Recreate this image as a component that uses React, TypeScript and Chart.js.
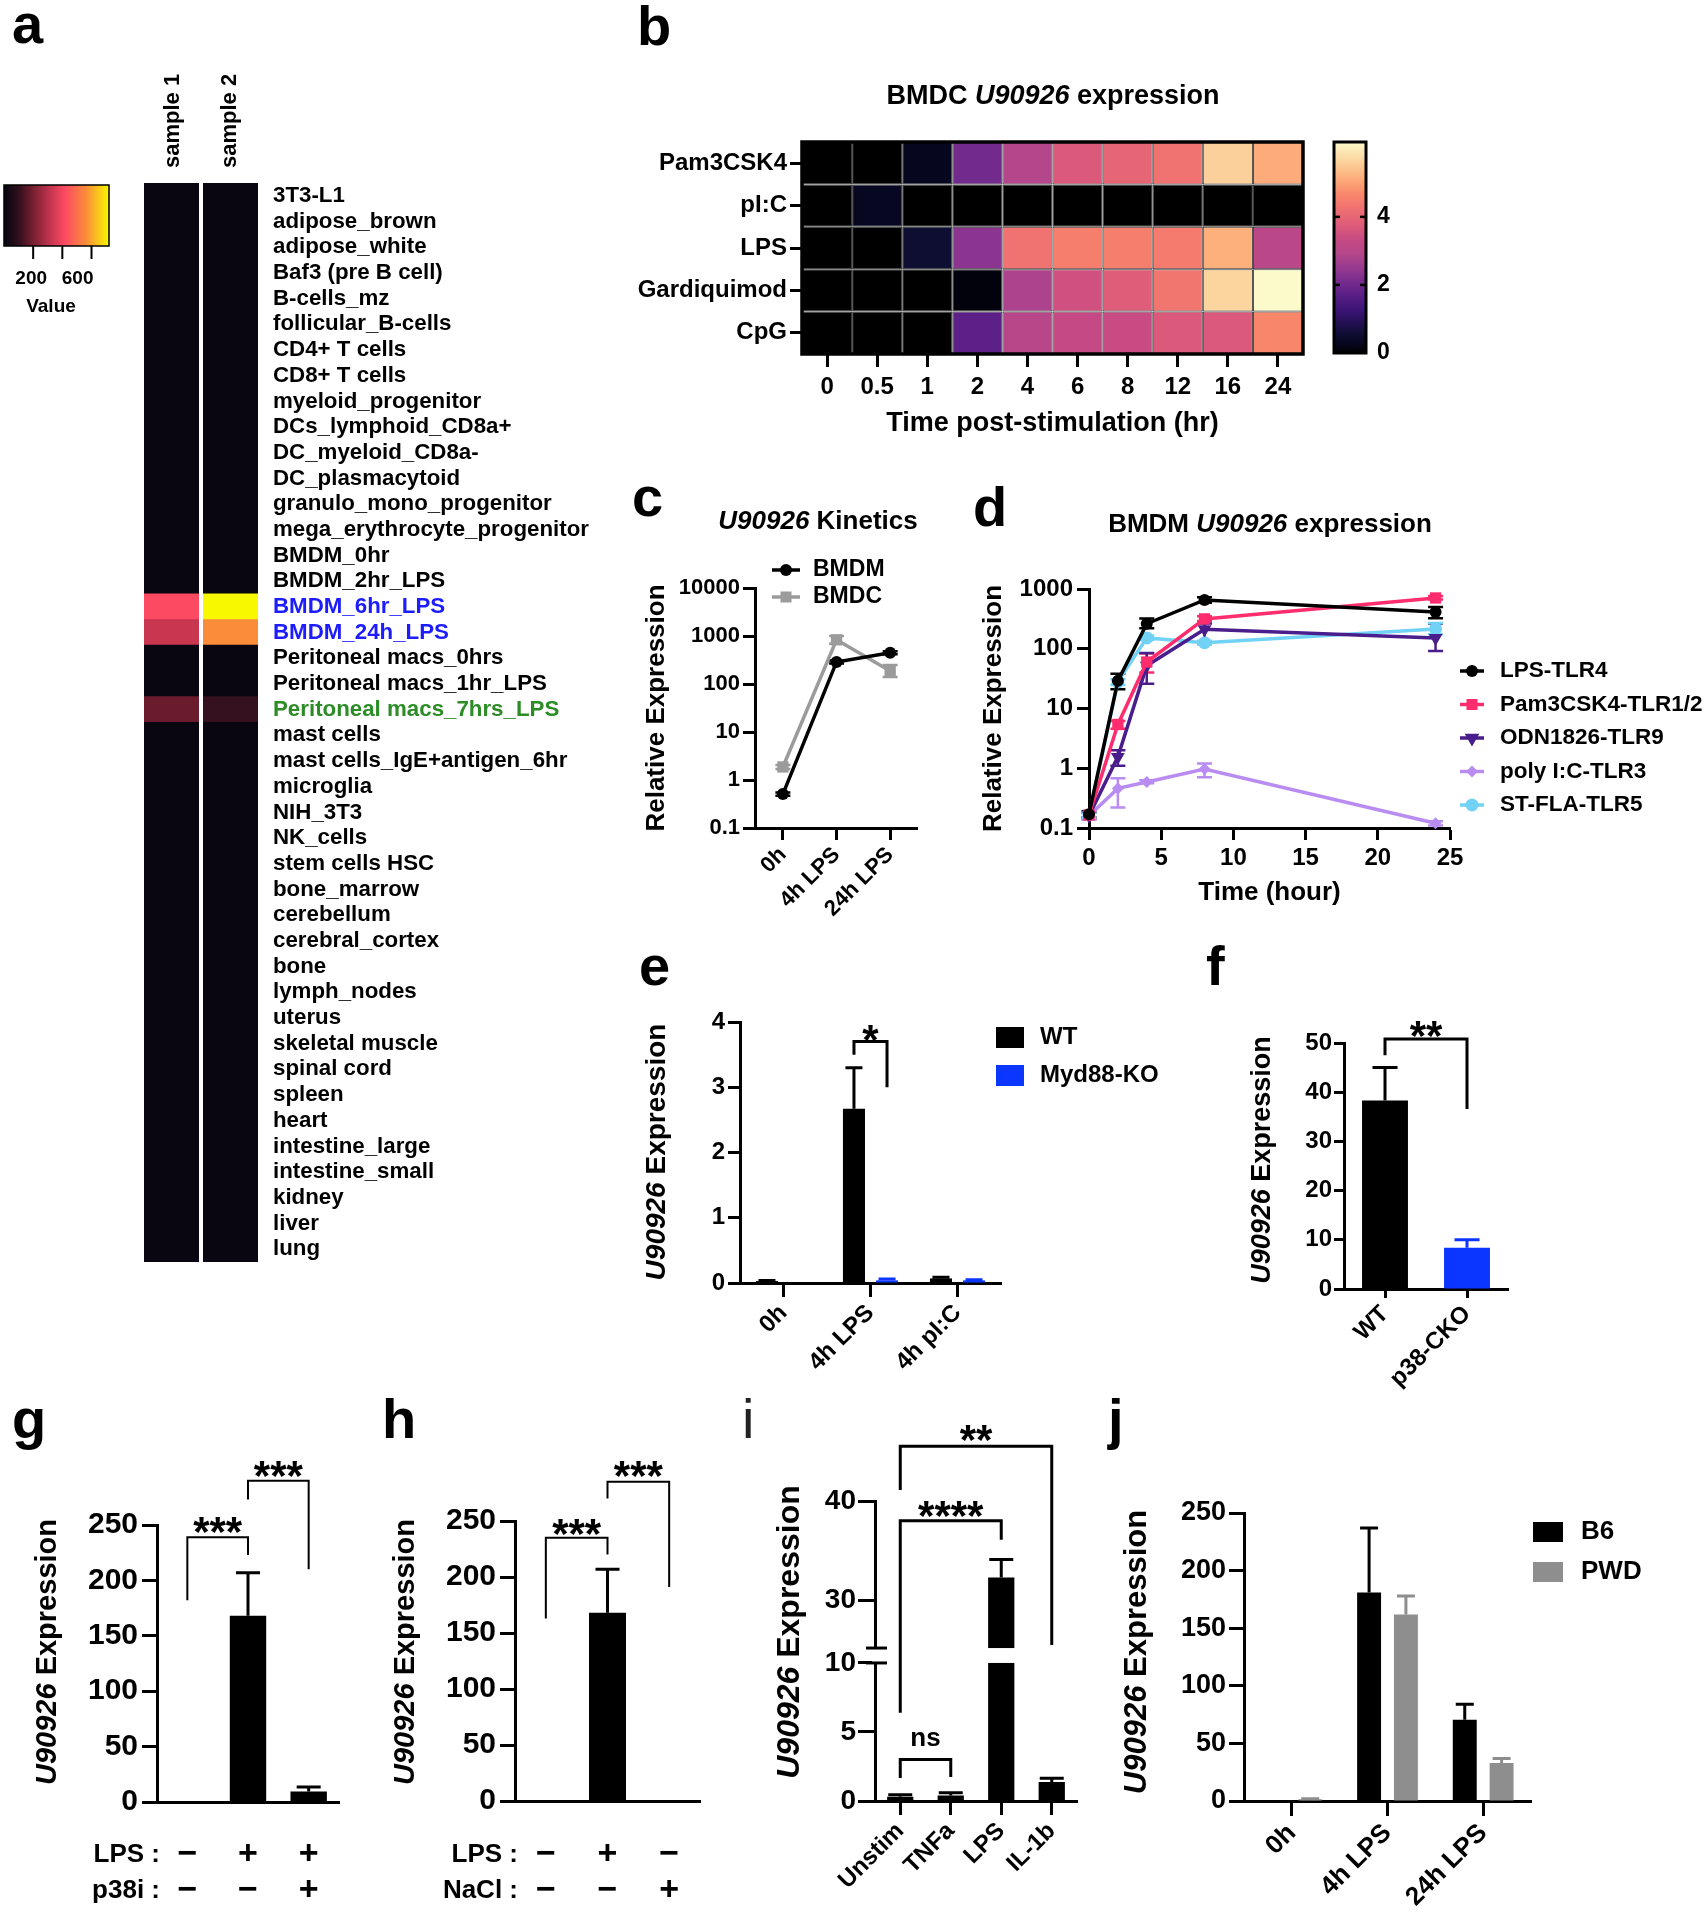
import React, { useEffect, useRef } from 'react';
import { Chart, registerables } from 'chart.js';

Chart.register(...registerables);

const FAMILY = "'Liberation Sans', Arial, Helvetica, sans-serif";
Chart.defaults.font.family = FAMILY;
Chart.defaults.color = '#000';

/* ================= DATA ================= */
// panel a : tissue heatmap (BioGPS-like)
const tissues = [
  '3T3-L1', 'adipose_brown', 'adipose_white', 'Baf3 (pre B cell)', 'B-cells_mz', 'follicular_B-cells',
  'CD4+ T cells', 'CD8+ T cells', 'myeloid_progenitor', 'DCs_lymphoid_CD8a+', 'DC_myeloid_CD8a-',
  'DC_plasmacytoid', 'granulo_mono_progenitor', 'mega_erythrocyte_progenitor', 'BMDM_0hr', 'BMDM_2hr_LPS',
  'BMDM_6hr_LPS', 'BMDM_24h_LPS', 'Peritoneal macs_0hrs', 'Peritoneal macs_1hr_LPS', 'Peritoneal macs_7hrs_LPS',
  'mast cells', 'mast cells_IgE+antigen_6hr', 'microglia', 'NIH_3T3', 'NK_cells', 'stem cells HSC',
  'bone_marrow', 'cerebellum', 'cerebral_cortex', 'bone', 'lymph_nodes', 'uterus', 'skeletal muscle',
  'spinal cord', 'spleen', 'heart', 'intestine_large', 'intestine_small', 'kidney', 'liver', 'lung',
];
const samples = ['sample 1', 'sample 2'];
const sample1Values = [8, 8, 8, 8, 8, 8, 8, 8, 8, 8, 8, 8, 8, 8, 8, 8, 418, 324, 8, 8, 180, 8, 8, 8, 8, 8, 8, 8, 8, 8, 8, 8, 8, 8, 8, 8, 8, 8, 8, 8, 8, 8];
const sample2Values = [8, 8, 8, 8, 8, 8, 8, 8, 8, 8, 8, 8, 8, 8, 8, 8, 720, 562, 8, 8, 108, 8, 8, 8, 8, 8, 8, 8, 8, 8, 8, 8, 8, 8, 8, 8, 8, 8, 8, 8, 8, 8];
const blueTissues = ['BMDM_6hr_LPS', 'BMDM_24h_LPS'];
const greenTissues = ['Peritoneal macs_7hrs_LPS'];
const keyTickValues = [200, 400, 600];
const keyMax = 720;

// panel b : BMDC heatmap
const stimuli = ['Pam3CSK4', 'pI:C', 'LPS', 'Gardiquimod', 'CpG'];
const timePoints = ['0', '0.5', '1', '2', '4', '6', '8', '12', '16', '24'];
const pam3csk4Expr = [0, 0, 0.25, 2.05, 2.9, 3.7, 4.0, 4.3, 5.6, 5.1];
const picExpr = [0, 0.3, 0, 0, 0, 0, 0, 0, 0, 0];
const lpsExpr = [0, 0, 0.55, 2.35, 4.3, 4.5, 4.5, 4.45, 5.15, 3.05];
const gardiquimodExpr = [0, 0, 0, 0.1, 2.8, 3.5, 3.8, 4.35, 5.65, 6.2];
const cpgExpr = [0, 0, 0, 1.75, 3.0, 3.3, 3.35, 3.7, 3.7, 4.65];
const bmdcScaleMax = 6.2;
const bmdcKeyTicks = [0, 2, 4];

// panel c : kinetics
const kinCats = ['0h', '4h LPS', '24h LPS'];
const kinBMDM = [0.51, 288, 446];
const kinBMDMLo = [0.47, 268, 415];
const kinBMDMHi = [0.55, 310, 480];
const kinBMDC = [1.87, 832, 186];
const kinBMDCLo = [1.7, 690, 140];
const kinBMDCHi = [2.05, 1000, 250];
const cTicks = [0.1, 1, 10, 100, 1000, 10000];

// panel d : BMDM time course
const tHours = [0, 2, 4, 8, 24];
const dLegend = ['LPS-TLR4', 'Pam3CSK4-TLR1/2', 'ODN1826-TLR9', 'poly I:C-TLR3', 'ST-FLA-TLR5'];
const lpsTLR4 = [0.17, 29, 262, 655, 414];
const lpsTLR4Lo = [0.15, 21, 220, 590, 325];
const lpsTLR4Hi = [0.19, 38, 320, 730, 500];
const pam3TLR12 = [0.165, 5.4, 60, 316, 708];
const pam3TLR12Lo = [0.15, 4.6, 40, 290, 670];
const pam3TLR12Hi = [0.18, 6.2, 83, 350, 760];
const odnTLR9 = [0.16, 1.55, 52, 212, 152];
const odnTLR9Lo = [0.14, 1.1, 26, 120, 92];
const odnTLR9Hi = [0.18, 2.0, 85, 264, 265];
const polyICTLR3 = [0.16, 0.46, 0.59, 0.97, 0.12];
const polyICTLR3Lo = [0.14, 0.22, 0.56, 0.71, 0.11];
const polyICTLR3Hi = [0.18, 0.68, 0.63, 1.2, 0.13];
const stflaTLR5 = [0.165, 28, 152, 126, 215];
const stflaTLR5Lo = [0.15, 25, 140, 118, 175];
const stflaTLR5Hi = [0.18, 31, 166, 136, 270];
const dYTicks = [0.1, 1, 10, 100, 1000];
const dXTicks = [0, 5, 10, 15, 20, 25];

// panel e : Myd88
const eCats = ['0h', '4h LPS', '4h pI:C'];
const eWT = [0.03, 2.67, 0.07];
const eWTErr = [0.04, 3.3, 0.09];
const eKO = [0, 0.04, 0.04];
const eKOErr = [null, 0.06, 0.05];
const eTicks = [0, 1, 2, 3, 4];

// panel f : p38 CKO
const fCats = ['WT', 'p38-CKO'];
const fValues = [38.3, 8.4];
const fErr = [45, 10];
const fTicks = [0, 10, 20, 30, 40, 50];

// panel g : p38 inhibitor
const gLPS = ['\u2212', '+', '+'];
const gP38i = ['\u2212', '\u2212', '+'];
const gValues = [0, 168, 9.5];
const gErr = [null, 207, 13.5];
const gTicks = [0, 50, 100, 150, 200, 250];

// panel h : NaCl
const hLPS = ['\u2212', '+', '\u2212'];
const hNaCl = ['\u2212', '\u2212', '+'];
const hValues = [0, 168, 0];
const hErr = [null, 207, null];
const hTicks = [0, 50, 100, 150, 200, 250];

// panel i : cytokines (broken axis)
const iCats = ['Unstim', 'TNFa', 'LPS', 'IL-1b'];
const iValues = [0.3, 0.4, 32.3, 1.38];
const iErr = [0.45, 0.6, 34.1, 1.65];
const iLowTicks = [0, 5, 10];
const iHighTicks = [30, 40];

// panel j : B6 vs PWD
const jCats = ['0h', '4h LPS', '24h LPS'];
const jB6 = [0, 181, 70.5];
const jB6Err = [null, 237, 84];
const jPWD = [1.5, 162, 33];
const jPWDErr = [2, 178, 37];
const jTicks = [0, 50, 100, 150, 200, 250];

/* ================= STYLE / HELPERS ================= */
const AXIS_W = 3;
const KO_BLUE = '#0a36ff';
const PWD_GREY = '#8e8e8e';
const BMDC_GREY = '#9b9b9b';

type Box = { x: number; y: number; w: number; h: number };
type Area = { l: number; t: number; r: number; b: number };
type Seg = { t: string; it?: boolean };

function hexToRgb(h: string) {
  const n = parseInt(h.slice(1), 16);
  return [(n >> 16) & 255, (n >> 8) & 255, n & 255];
}
function makeColormap(stops: [number, string][]) {
  const s = stops.map(([t, c]) => [t, hexToRgb(c)] as [number, number[]]);
  return (t: number) => {
    const v = Math.max(0, Math.min(1, t));
    for (let i = 1; i < s.length; i++) {
      if (v <= s[i][0]) {
        const [t0, c0] = s[i - 1];
        const [t1, c1] = s[i];
        const f = (v - t0) / (t1 - t0 || 1);
        const c = c0.map((a, k) => Math.round(a + (c1[k] - a) * f));
        return `rgb(${c[0]},${c[1]},${c[2]})`;
      }
    }
    const c = s[s.length - 1][1];
    return `rgb(${c[0]},${c[1]},${c[2]})`;
  };
}
const heatA = makeColormap([
  [0, '#050410'], [0.15, '#35101e'], [0.25, '#6a1c2c'], [0.45, '#c83650'],
  [0.58, '#fc4a63'], [0.78, '#fb8c3a'], [1, '#f8f800'],
]);
const magmaLike = makeColormap([
  [0, '#000000'], [0.04, '#06061e'], [0.09, '#0e0d33'], [0.2, '#3a1475'], [0.28, '#5c2088'],
  [0.33, '#722a8c'], [0.38, '#8b3590'], [0.47, '#b5478b'], [0.53, '#c44884'], [0.6, '#dc5a7a'],
  [0.7, '#f27570'], [0.75, '#f8866a'], [0.83, '#fdaf7c'], [0.9, '#fbcf98'], [1, '#fcf9cb'],
]);

const fontStr = (size: number, weight: string, italic: boolean) =>
  `${italic ? 'italic ' : ''}${weight} ${size}px ${FAMILY}`;

function drawText(ctx: CanvasRenderingContext2D, text: string | Seg[], x: number, y: number, size: number, o: any = {}) {
  const segs: Seg[] = typeof text === 'string' ? [{ t: text }] : text;
  const weight = o.weight ?? 'bold';
  ctx.save();
  ctx.translate(x, y);
  if (o.rot) ctx.rotate(o.rot);
  ctx.textBaseline = o.baseline ?? 'middle';
  ctx.textAlign = 'left';
  ctx.fillStyle = o.color ?? '#000';
  const widths = segs.map((s) => {
    ctx.font = fontStr(size, weight, !!s.it);
    return ctx.measureText(s.t).width;
  });
  const total = widths.reduce((a, b) => a + b, 0);
  let cx = o.align === 'center' ? -total / 2 : o.align === 'right' ? -total : 0;
  segs.forEach((s, i) => {
    ctx.font = fontStr(size, weight, !!s.it);
    ctx.fillText(s.t, cx, 0);
    cx += widths[i];
  });
  ctx.restore();
}
function drawStars(ctx: CanvasRenderingContext2D, s: string, x: number, yCenter: number, size: number) {
  drawText(ctx, s, x, yCenter + 0.66 * size, size, { align: 'center', baseline: 'alphabetic' });
}
function drawBracket(ctx: CanvasRenderingContext2D, x1: number, x2: number, yTop: number, yL: number, yR: number, lw: number) {
  ctx.save();
  ctx.strokeStyle = '#000';
  ctx.lineWidth = lw;
  ctx.lineJoin = 'miter';
  ctx.beginPath();
  ctx.moveTo(x1, yL);
  ctx.lineTo(x1, yTop);
  ctx.lineTo(x2, yTop);
  ctx.lineTo(x2, yR);
  ctx.stroke();
  ctx.restore();
}
function drawMarker(ctx: CanvasRenderingContext2D, style: string, x: number, y: number, r: number, color: string) {
  ctx.save();
  ctx.fillStyle = color;
  ctx.beginPath();
  if (style === 'circle') ctx.arc(x, y, r, 0, Math.PI * 2);
  else if (style === 'rect') ctx.rect(x - r, y - r, 2 * r, 2 * r);
  else if (style === 'triangleDown') {
    ctx.moveTo(x - r * 1.05, y - r * 0.6);
    ctx.lineTo(x + r * 1.05, y - r * 0.6);
    ctx.lineTo(x, y + r * 1.2);
    ctx.closePath();
  } else if (style === 'diamond') {
    ctx.moveTo(x, y - r);
    ctx.lineTo(x + r, y);
    ctx.lineTo(x, y + r);
    ctx.lineTo(x - r, y);
    ctx.closePath();
  }
  ctx.fill();
  ctx.restore();
}
function hLine(ctx: CanvasRenderingContext2D, x1: number, y1: number, x2: number, y2: number, lw: number, color = '#000') {
  ctx.save();
  ctx.strokeStyle = color;
  ctx.lineWidth = lw;
  ctx.beginPath();
  ctx.moveTo(x1, y1);
  ctx.lineTo(x2, y2);
  ctx.stroke();
  ctx.restore();
}

const yExprTitle: Seg[] = [{ t: 'U90926', it: true }, { t: ' Expression' }];
const F = (size: number, weight: any = 'bold') => ({ family: FAMILY, size, weight, lineHeight: 1.2 });

function fitWidth(w: number) {
  return (s: any) => { s.width = w; s.paddingTop = 0; s.paddingBottom = 0; s.paddingLeft = 0; s.paddingRight = 0; };
}
function fitHeight(h: number) {
  return (s: any) => { s.height = h; s.paddingTop = 0; s.paddingBottom = 0; s.paddingLeft = 0; s.paddingRight = 0; };
}
function setTicks(values: number[]) {
  return (s: any) => { s.ticks = values.map((v) => ({ value: v })); };
}

function valueAxis(o: any) {
  return {
    type: o.type ?? 'linear',
    position: 'left',
    min: o.min,
    max: o.max,
    z: 1,
    ...(o.stack ? { stack: o.stack, stackWeight: o.stackWeight } : {}),
    border: { display: true, color: '#000', width: AXIS_W },
    grid: { display: true, drawOnChartArea: false, drawTicks: true, tickLength: o.tickLen, tickWidth: AXIS_W, tickColor: '#000', color: '#000' },
    ticks: { color: '#000', font: F(o.size), padding: o.pad, autoSkip: false, callback: (v: any) => String(v) },
    afterBuildTicks: setTicks(o.ticks),
    afterFit: fitWidth(o.width),
  };
}
function categoryAxis(o: any) {
  return {
    type: 'category',
    position: 'bottom',
    offset: true,
    z: 1,
    border: { display: true, color: '#000', width: AXIS_W },
    grid: { display: true, offset: false, drawOnChartArea: false, drawTicks: o.tickLen > 0, tickLength: o.tickLen || 1, tickWidth: AXIS_W, tickColor: '#000', color: '#000' },
    ticks: { display: o.show, color: '#000', font: F(o.size), padding: o.pad, minRotation: o.rot, maxRotation: o.rot, autoSkip: false },
    afterFit: fitHeight(o.height),
  };
}
function baseOptions(box: Box, area: Area, scales: any, extra: any = {}) {
  return {
    responsive: false,
    animation: false,
    events: [],
    devicePixelRatio: 1,
    layout: { padding: { top: area.t - box.y, right: box.x + box.w - area.r, left: 0, bottom: 0 } },
    plugins: { legend: { display: false }, tooltip: { enabled: false }, title: { display: false } },
    scales,
    ...extra,
  };
}

function pagePlugin(box: Box, draw: (ctx: CanvasRenderingContext2D, chart: any, P: any) => void) {
  return {
    id: 'pageDraw',
    afterDraw(chart: any) {
      const ctx = chart.ctx;
      const ca = chart.chartArea;
      const P = {
        x: (id: string, v: number) => chart.scales[id].getPixelForValue(v) + box.x,
        y: (id: string, v: number) => chart.scales[id].getPixelForValue(v) + box.y,
        el: (di: number, k: number) => {
          const e = chart.getDatasetMeta(di).data[k];
          return { x: e.x + box.x, y: e.y + box.y };
        },
        area: { l: ca.left + box.x, r: ca.right + box.x, t: ca.top + box.y, b: ca.bottom + box.y },
      };
      ctx.save();
      ctx.translate(-box.x, -box.y);
      draw(ctx, chart, P);
      ctx.restore();
    },
  };
}

const errorBarPlugin = {
  id: 'errorBars',
  beforeDatasetsDraw(chart: any) {
    const ctx = chart.ctx;
    chart.data.datasets.forEach((ds: any, di: number) => {
      if (!ds.errHi) return;
      const meta = chart.getDatasetMeta(di);
      const ys = chart.scales[meta.yAxisID];
      meta.data.forEach((el: any, k: number) => {
        const hi = ds.errHi[k];
        if (hi === null || hi === undefined) return;
        const col = Array.isArray(ds.errColor) ? ds.errColor[k] : ds.errColor ?? '#000';
        const half = (ds.capW ?? 16) / 2;
        ctx.save();
        ctx.strokeStyle = col;
        ctx.lineWidth = ds.errWidth ?? 3;
        ctx.beginPath();
        const yh = ys.getPixelForValue(hi);
        ctx.moveTo(el.x, el.y);
        ctx.lineTo(el.x, yh);
        ctx.moveTo(el.x - half, yh);
        ctx.lineTo(el.x + half, yh);
        if (ds.errLo && ds.errLo[k] != null) {
          const yl = ys.getPixelForValue(ds.errLo[k]);
          ctx.moveTo(el.x, el.y);
          ctx.lineTo(el.x, yl);
          ctx.moveTo(el.x - half, yl);
          ctx.lineTo(el.x + half, yl);
        }
        ctx.stroke();
        ctx.restore();
      });
    });
  },
};

function drawTable(ctx: CanvasRenderingContext2D, P: any, rows: [string, string[]][], labelRight: number, ys: number[], labelSize: number) {
  rows.forEach(([label, signs], r) => {
    drawText(ctx, label, labelRight, ys[r], labelSize, { align: 'right' });
    signs.forEach((s, i) => drawText(ctx, s, P.x('x', i), ys[r], 34, { align: 'center' }));
  });
}

/* ================= LAYOUT BOXES ================= */
const aBox: Box = { x: 0, y: 0, w: 620, h: 1290 };
const aArea: Area = { l: 144, t: 183, r: 258, b: 1262 };
const bBox: Box = { x: 620, y: 0, w: 840, h: 450 };
const bArea: Area = { l: 802, t: 142, r: 1303, b: 354 };
const cBox: Box = { x: 620, y: 470, w: 340, h: 480 };
const cArea: Area = { l: 755, t: 588, r: 917, b: 828 };
const dBox: Box = { x: 960, y: 470, w: 744, h: 450 };
const dArea: Area = { l: 1089, t: 589, r: 1450, b: 828 };
const eBox: Box = { x: 620, y: 930, w: 600, h: 440 };
const eArea: Area = { l: 740, t: 1022, r: 1001, b: 1283 };
const fBox: Box = { x: 1190, y: 930, w: 340, h: 470 };
const fArea: Area = { l: 1344, t: 1043, r: 1508, b: 1289 };
const gBox: Box = { x: 0, y: 1380, w: 370, h: 540 };
const gArea: Area = { l: 157, t: 1525, r: 339, b: 1802 };
const hBox: Box = { x: 370, y: 1380, w: 370, h: 540 };
const hArea: Area = { l: 515, t: 1521, r: 700, b: 1801 };
const iBox: Box = { x: 740, y: 1380, w: 370, h: 540 };
const iArea: Area = { l: 875, t: 1501, r: 1077, b: 1801 };
const jBox: Box = { x: 1100, y: 1380, w: 604, h: 540 };
const jArea: Area = { l: 1244, t: 1513, r: 1531, b: 1801 };

/* ================= PANELS ================= */
function tissueColor(name: string) {
  if (blueTissues.includes(name)) return '#1c1cff';
  if (greenTissues.includes(name)) return '#2c8c26';
  return '#000';
}

function panelA(): any {
  const heat = (vals: number[], col: number) => ({
    label: samples[col],
    data: tissues.map(() => [col, col + 1]),
    backgroundColor: vals.map((v) => heatA(v / keyMax)),
    borderWidth: 0,
    inflateAmount: 0.6,
    barPercentage: 1,
    categoryPercentage: 1,
    grouped: false,
  });
  return {
    type: 'bar',
    data: { labels: tissues, datasets: [heat(sample1Values, 0), heat(sample2Values, 1)] },
    options: {
      responsive: false,
      animation: false,
      events: [],
      devicePixelRatio: 1,
      indexAxis: 'y',
      layout: { padding: { left: aArea.l - aBox.x, top: aArea.t - aBox.y, right: 0, bottom: aBox.y + aBox.h - aArea.b } },
      plugins: { legend: { display: false }, tooltip: { enabled: false } },
      scales: {
        x: { type: 'linear', min: 0, max: samples.length, display: false },
        y: {
          type: 'category', position: 'right', offset: true,
          grid: { display: false, drawTicks: false }, border: { display: false },
          ticks: { autoSkip: false, padding: 15, font: F(22.3), color: (c: any) => tissueColor(tissues[c.index]) },
          afterFit: fitWidth(aBox.x + aBox.w - aArea.r),
        },
      },
    },
    plugins: [pagePlugin(aBox, (ctx, chart, P) => {
      // white separator between the two sample columns
      ctx.fillStyle = '#ffffff';
      const xm = P.x('x', 1);
      ctx.fillRect(xm - 2, P.area.t - 1, 4, P.area.b - P.area.t + 2);
      drawText(ctx, 'a', 12, 43, 56, { baseline: 'alphabetic' });
      samples.forEach((s, i) => drawText(ctx, s, P.x('x', i + 0.5), 168, 22, { rot: -Math.PI / 2, align: 'left' }));
      // colour key
      const kx0 = 4, kx1 = 109, ky0 = 185, ky1 = 246;
      const g = ctx.createLinearGradient(kx0, 0, kx1, 0);
      for (let i = 0; i <= 40; i++) g.addColorStop(i / 40, heatA(i / 40));
      ctx.fillStyle = g;
      ctx.fillRect(kx0, ky0, kx1 - kx0, ky1 - ky0);
      ctx.strokeStyle = '#000';
      ctx.lineWidth = 1.5;
      ctx.strokeRect(kx0, ky0, kx1 - kx0, ky1 - ky0);
      const kxp = (v: number) => kx0 + (v / keyMax) * (kx1 - kx0);
      keyTickValues.forEach((v) => hLine(ctx, kxp(v), ky1, kxp(v), ky1 + 13, 2));
      drawText(ctx, String(keyTickValues[0]), kxp(keyTickValues[0]) - 2, 279, 19, { align: 'center' });
      drawText(ctx, String(keyTickValues[2]), kxp(keyTickValues[2]) + 2, 279, 19, { align: 'right' });
      drawText(ctx, 'Value', 51, 307, 19, { align: 'center' });
    })],
  };
}

function panelB(): any {
  const bmdcRows = [pam3csk4Expr, picExpr, lpsExpr, gardiquimodExpr, cpgExpr];
  const datasets = timePoints.map((t, j) => ({
    label: t,
    data: stimuli.map(() => [j, j + 1]),
    backgroundColor: bmdcRows.map((row) => magmaLike(row[j] / bmdcScaleMax)),
    borderColor: '#303030',
    borderWidth: 1,
    borderSkipped: false,
    inflateAmount: 0,
    barPercentage: 1,
    categoryPercentage: 1,
    grouped: false,
  }));
  return {
    type: 'bar',
    data: { labels: stimuli, datasets },
    options: baseOptions(bBox, bArea, {
      x: {
        type: 'linear', position: 'bottom', min: 0, max: timePoints.length, z: 1,
        border: { display: false },
        grid: { display: true, drawOnChartArea: false, drawTicks: true, tickLength: 13, tickWidth: AXIS_W, tickColor: '#000' },
        ticks: { font: F(24), color: '#000', padding: 6, maxRotation: 0, autoSkip: false, callback: (_v: any, i: number) => timePoints[i] },
        afterBuildTicks: setTicks(timePoints.map((_, j) => j + 0.5)),
        afterFit: fitHeight(bBox.y + bBox.h - bArea.b),
      },
      y: {
        type: 'category', position: 'left', offset: true, z: 1,
        border: { display: false },
        grid: { display: true, offset: false, drawOnChartArea: false, drawTicks: true, tickLength: 12, tickWidth: AXIS_W, tickColor: '#000' },
        ticks: { font: F(24), color: '#000', padding: 3, autoSkip: false },
        afterFit: fitWidth(bArea.l - bBox.x),
      },
    }, { indexAxis: 'y' }),
    plugins: [pagePlugin(bBox, (ctx, chart, P) => {
      const a = P.area;
      ctx.strokeStyle = '#000';
      ctx.lineWidth = 3.5;
      ctx.strokeRect(a.l, a.t, a.r - a.l, a.b - a.t);
      drawText(ctx, 'b', 637, 45, 56, { baseline: 'alphabetic' });
      drawText(ctx, [{ t: 'BMDC ' }, { t: 'U90926', it: true }, { t: ' expression' }], 1053, 97, 27, { align: 'center' });
      drawText(ctx, 'Time post-stimulation (hr)', (a.l + a.r) / 2, 424, 27, { align: 'center' });
      // colour key
      const kx = 1334, kw = 32, kt = a.t, kb = a.b - 1;
      const g = ctx.createLinearGradient(0, kb, 0, kt);
      for (let i = 0; i <= 40; i++) g.addColorStop(i / 40, magmaLike(i / 40));
      ctx.fillStyle = g;
      ctx.fillRect(kx, kt, kw, kb - kt);
      ctx.lineWidth = 3;
      ctx.strokeRect(kx, kt, kw, kb - kt);
      bmdcKeyTicks.forEach((v) => {
        const y = kb - (v / bmdcScaleMax) * (kb - kt);
        if (v > 0) {
          hLine(ctx, kx, y, kx + 6, y, 2.5);
          hLine(ctx, kx + kw - 6, y, kx + kw, y, 2.5);
        }
        drawText(ctx, String(v), kx + kw + 11, y, 23);
      });
    })],
  };
}

function lineDataset(label: string, xs: number[], vals: number[], lo: number[], hi: number[], color: string, style: string, radius: number, rot = 0) {
  return {
    label,
    data: vals.map((v, k) => ({ x: xs[k], y: v })),
    borderColor: color,
    backgroundColor: color,
    pointBackgroundColor: color,
    pointBorderColor: color,
    pointBorderWidth: 0,
    pointStyle: style,
    pointRadius: radius,
    pointRotation: rot,
    borderWidth: 3.5,
    tension: 0,
    clip: false,
    errLo: lo,
    errHi: hi,
    capW: 15,
    errColor: color,
    errWidth: 2.5,
  };
}

function panelC(): any {
  const xs = kinCats.map((_, i) => i);
  return {
    type: 'line',
    data: {
      datasets: [
        lineDataset('BMDM', xs, kinBMDM, kinBMDMLo, kinBMDMHi, '#000', 'circle', 6),
        lineDataset('BMDC', xs, kinBMDC, kinBMDCLo, kinBMDCHi, BMDC_GREY, 'rect', 8),
      ],
    },
    options: baseOptions(cBox, cArea, {
      x: {
        type: 'linear', position: 'bottom', min: -0.52, max: kinCats.length - 0.5, z: 1,
        border: { display: true, color: '#000', width: AXIS_W },
        grid: { display: true, drawOnChartArea: false, drawTicks: true, tickLength: 12, tickWidth: AXIS_W, tickColor: '#000' },
        ticks: { font: F(22), color: '#000', padding: 2, minRotation: 45, maxRotation: 45, autoSkip: false, callback: (_v: any, i: number) => kinCats[i] },
        afterBuildTicks: setTicks(xs),
        afterFit: fitHeight(cBox.y + cBox.h - cArea.b),
      },
      y: valueAxis({ type: 'logarithmic', width: cArea.l - cBox.x, min: 0.1, max: 10000, ticks: cTicks, size: 22, tickLen: 12, pad: 3 }),
    }),
    plugins: [errorBarPlugin, pagePlugin(cBox, (ctx, chart, P) => {
      drawText(ctx, 'c', 632, 516, 56, { baseline: 'alphabetic' });
      drawText(ctx, [{ t: 'U90926', it: true }, { t: ' Kinetics' }], 818, 522, 26, { align: 'center' });
      drawText(ctx, 'Relative Expression', 657, (P.area.t + P.area.b) / 2, 26, { align: 'center', rot: -Math.PI / 2 });
      const legend: [string, string, string, number][] = [['BMDM', '#000', 'circle', 6], ['BMDC', BMDC_GREY, 'rect', 5.5]];
      legend.forEach(([name, col, st, r], i) => {
        const y = 570 + i * 27;
        hLine(ctx, 772, y, 800, y, 3.5, col);
        drawMarker(ctx, st, 786, y, r, col);
        drawText(ctx, name, 813, y, 23);
      });
    })],
  };
}

function panelD(): any {
  const vals = [lpsTLR4, pam3TLR12, odnTLR9, polyICTLR3, stflaTLR5];
  const los = [lpsTLR4Lo, pam3TLR12Lo, odnTLR9Lo, polyICTLR3Lo, stflaTLR5Lo];
  const his = [lpsTLR4Hi, pam3TLR12Hi, odnTLR9Hi, polyICTLR3Hi, stflaTLR5Hi];
  const styles = [
    { color: '#000000', point: 'circle', r: 6, rot: 0, leg: 'circle', lr: 6 },
    { color: '#ff2d6d', point: 'rect', r: 8, rot: 0, leg: 'rect', lr: 5.5 },
    { color: '#4a1d8c', point: 'triangle', r: 8, rot: 180, leg: 'triangleDown', lr: 7 },
    { color: '#b98cf2', point: 'rectRot', r: 6, rot: 0, leg: 'diamond', lr: 6 },
    { color: '#72d2f5', point: 'circle', r: 6.5, rot: 0, leg: 'circle', lr: 6.5 },
  ];
  return {
    type: 'line',
    data: {
      datasets: dLegend.map((name, s) =>
        lineDataset(name, tHours, vals[s], los[s], his[s], styles[s].color, styles[s].point, styles[s].r, styles[s].rot)),
    },
    options: baseOptions(dBox, dArea, {
      x: {
        type: 'linear', position: 'bottom', min: 0, max: 25, z: 1,
        border: { display: true, color: '#000', width: AXIS_W },
        grid: { display: true, drawOnChartArea: false, drawTicks: true, tickLength: 12, tickWidth: AXIS_W, tickColor: '#000' },
        ticks: { font: F(24), color: '#000', padding: 4, maxRotation: 0, autoSkip: false, callback: (v: any) => String(v) },
        afterBuildTicks: setTicks(dXTicks),
        afterFit: fitHeight(dBox.y + dBox.h - dArea.b),
      },
      y: valueAxis({ type: 'logarithmic', width: dArea.l - dBox.x, min: 0.1, max: 1000, ticks: dYTicks, size: 24, tickLen: 12, pad: 4 }),
    }),
    plugins: [errorBarPlugin, pagePlugin(dBox, (ctx, chart, P) => {
      drawText(ctx, 'd', 973, 526, 56, { baseline: 'alphabetic' });
      drawText(ctx, [{ t: 'BMDM ' }, { t: 'U90926', it: true }, { t: ' expression' }], 1270, 525, 26, { align: 'center' });
      drawText(ctx, 'Relative Expression', 994, (P.area.t + P.area.b) / 2, 26, { align: 'center', rot: -Math.PI / 2 });
      drawText(ctx, 'Time (hour)', (P.area.l + P.area.r) / 2, 893, 26, { align: 'center' });
      dLegend.forEach((name, s) => {
        const y = 671 + s * 33.5;
        hLine(ctx, 1460, y, 1484, y, 3.5, styles[s].color);
        drawMarker(ctx, styles[s].leg, 1472, y, styles[s].lr, styles[s].color);
        drawText(ctx, name, 1500, y, 22.5);
      });
    })],
  };
}

function panelE(): any {
  return {
    type: 'bar',
    data: {
      labels: eCats,
      datasets: [
        { label: 'WT', data: eWT, backgroundColor: '#000', errHi: eWTErr, capW: 17, errColor: '#000' },
        { label: 'Myd88-KO', data: eKO, backgroundColor: KO_BLUE, errHi: eKOErr, capW: 17, errColor: KO_BLUE },
      ],
    },
    options: baseOptions(eBox, eArea, {
      x: categoryAxis({ height: eBox.y + eBox.h - eArea.b, size: 24, tickLen: 14, pad: 2, rot: 45, show: true }),
      y: valueAxis({ width: eArea.l - eBox.x, min: 0, max: 4, ticks: eTicks, size: 24, tickLen: 12, pad: 3 }),
    }, { datasets: { bar: { barPercentage: 0.667, categoryPercentage: 0.76 } } }),
    plugins: [errorBarPlugin, pagePlugin(eBox, (ctx, chart, P) => {
      drawText(ctx, 'e', 639, 985, 56, { baseline: 'alphabetic' });
      drawText(ctx, yExprTitle, 657, 1152, 28, { align: 'center', rot: -Math.PI / 2 });
      const x1 = P.el(0, 1).x, x2 = P.el(1, 1).x;
      drawBracket(ctx, x1, x2, P.y('y', 3.7), P.y('y', 3.5), P.y('y', 3.0), 3);
      drawStars(ctx, '*', (x1 + x2) / 2, P.y('y', 3.93), 42);
      const leg: [string, string][] = [['WT', '#000'], ['Myd88-KO', KO_BLUE]];
      leg.forEach(([name, col], i) => {
        const y = 1037 + i * 38;
        ctx.fillStyle = col;
        ctx.fillRect(996, y - 10, 28, 21);
        drawText(ctx, name, 1040, y, 24);
      });
    })],
  };
}

function panelF(): any {
  return {
    type: 'bar',
    data: {
      labels: fCats,
      datasets: [{ label: 'f', data: fValues, backgroundColor: ['#000', KO_BLUE], errHi: fErr, capW: 25, errColor: ['#000', KO_BLUE] }],
    },
    options: baseOptions(fBox, fArea, {
      x: categoryAxis({ height: fBox.y + fBox.h - fArea.b, size: 24, tickLen: 9, pad: 2, rot: 45, show: true }),
      y: valueAxis({ width: fArea.l - fBox.x, min: 0, max: 50, ticks: fTicks, size: 24, tickLen: 10, pad: 2 }),
    }, { datasets: { bar: { barPercentage: 0.56, categoryPercentage: 1 } } }),
    plugins: [errorBarPlugin, pagePlugin(fBox, (ctx, chart, P) => {
      drawText(ctx, 'f', 1206, 985, 56, { baseline: 'alphabetic' });
      drawText(ctx, yExprTitle, 1263, 1160, 27, { align: 'center', rot: -Math.PI / 2 });
      const x1 = P.x('x', 0), x2 = P.x('x', 1);
      drawBracket(ctx, x1, x2, P.y('y', 50.8), P.y('y', 47.5), P.y('y', 36.6), 3);
      drawStars(ctx, '**', (x1 + x2) / 2, P.y('y', 54.2), 42);
    })],
  };
}

function simpleBarPanel(box: Box, area: Area, letter: string, letterX: number, values: number[], errs: any[], ticks: number[], titleX: number, titleSize: number,
  brackets: any[], table: [string, string[]][], tableRight: number): any {
  return {
    type: 'bar',
    data: {
      labels: values.map((_, i) => table.map((r) => r[0] + r[1][i]).join(' ')),
      datasets: [{ label: letter, data: values, backgroundColor: '#000', errHi: errs, capW: 24, errColor: '#000' }],
    },
    options: baseOptions(box, area, {
      x: categoryAxis({ height: box.y + box.h - area.b, size: 24, tickLen: 0, pad: 0, rot: 0, show: false }),
      y: valueAxis({ width: area.l - box.x, min: 0, max: 250, ticks, size: 30, tickLen: 15, pad: 4 }),
    }, { datasets: { bar: { barPercentage: 0.6, categoryPercentage: 1 } } }),
    plugins: [errorBarPlugin, pagePlugin(box, (ctx, chart, P) => {
      drawText(ctx, letter, letterX, 1438, 56, { baseline: 'alphabetic' });
      drawText(ctx, yExprTitle, titleX, 1652, titleSize, { align: 'center', rot: -Math.PI / 2 });
      brackets.forEach((b) => {
        const x1 = P.x('x', b.a), x2 = P.x('x', b.b);
        drawBracket(ctx, x1, x2, P.y('y', b.top), P.y('y', b.left), P.y('y', b.right), 2);
        drawStars(ctx, b.label, (x1 + x2) / 2, P.y('y', b.at), 42);
      });
      drawTable(ctx, P, table, tableRight, [1855, 1891], 26);
    })],
  };
}

function panelG(): any {
  const brackets = [
    { a: 0, b: 1, top: 239, left: 182, right: 223, label: '***', at: 256 },
    { a: 1, b: 2, top: 290, left: 273, right: 210, label: '***', at: 307 },
  ];
  return simpleBarPanel(gBox, gArea, 'g', 12, gValues, gErr, gTicks, 48, 29, brackets, [['LPS :', gLPS], ['p38i :', gP38i]], 160);
}
function panelH(): any {
  const brackets = [
    { a: 0, b: 1, top: 235, left: 163, right: 220, label: '***', at: 251 },
    { a: 1, b: 2, top: 285, left: 270, right: 191, label: '***', at: 302 },
  ];
  return simpleBarPanel(hBox, hArea, 'h', 382, hValues, hErr, hTicks, 406, 29, brackets, [['LPS :', hLPS], ['NaCl :', hNaCl]], 518);
}

function panelI(): any {
  const lowMax = 10.54, highMin = 24.45, highMax = 40;
  const gapLow = 10, gapHigh = 25.2;
  return {
    type: 'bar',
    data: {
      labels: iCats,
      datasets: [
        { label: 'low', yAxisID: 'yLow', data: iValues.map((v) => Math.min(v, lowMax)), backgroundColor: '#000',
          errHi: iErr.map((e, k) => (iValues[k] <= lowMax ? e : null)), capW: 24, errColor: '#000' },
        { label: 'high', yAxisID: 'yHigh', data: iValues.map((v) => (v > highMin ? [highMin, v] : null)), backgroundColor: '#000',
          errHi: iErr.map((e, k) => (iValues[k] > highMin ? e : null)), capW: 24, errColor: '#000' },
      ],
    },
    options: baseOptions(iBox, iArea, {
      x: categoryAxis({ height: iBox.y + iBox.h - iArea.b, size: 24, tickLen: 14, pad: 2, rot: 45, show: true }),
      yLow: valueAxis({ width: iArea.l - iBox.x, min: 0, max: lowMax, ticks: iLowTicks, size: 28, tickLen: 17, pad: 2, stack: 'i', stackWeight: 145.5 }),
      yHigh: valueAxis({ width: iArea.l - iBox.x, min: highMin, max: highMax, ticks: iHighTicks, size: 28, tickLen: 17, pad: 2, stack: 'i', stackWeight: 154.5 }),
    }, { datasets: { bar: { barPercentage: 0.52, categoryPercentage: 1, grouped: false } } }),
    plugins: [errorBarPlugin, pagePlugin(iBox, (ctx, chart, P) => {
      const Yl = (v: number) => P.y('yLow', v);
      const Yh = (v: number) => P.y('yHigh', v);
      const gTop = Yh(gapHigh), gBot = Yl(gapLow);
      ctx.fillStyle = '#fff';
      ctx.fillRect(P.area.l - 3, gTop, P.area.r - P.area.l + 6, gBot - gTop);
      [gTop, gBot].forEach((y) => hLine(ctx, P.area.l - 9, y, P.area.l + 12, y, 3));
      drawText(ctx, 'i', 742, 1438, 56, { baseline: 'alphabetic', weight: 'normal', color: '#222' });
      drawText(ctx, yExprTitle, 790, 1632, 32, { align: 'center', rot: -Math.PI / 2 });
      const X = (i: number) => P.x('x', i);
      drawBracket(ctx, X(0), X(1), Yl(3.0), Yl(1.67), Yl(1.74), 3);
      drawText(ctx, 'ns', (X(0) + X(1)) / 2, Yl(4.5), 26, { align: 'center' });
      drawBracket(ctx, X(0), X(2), Yh(38), Yl(6.4), Yh(36.1), 3);
      drawStars(ctx, '****', (X(0) + X(2)) / 2, Yh(39.9), 42);
      drawBracket(ctx, X(0), X(3), Yh(45.5), Yh(41.1), Yh(25.5), 3);
      drawStars(ctx, '**', (X(0) + X(3)) / 2, Yh(47.5), 42);
    })],
  };
}

function panelJ(): any {
  return {
    type: 'bar',
    data: {
      labels: jCats,
      datasets: [
        { label: 'B6', data: jB6, backgroundColor: '#000', errHi: jB6Err, capW: 18, errColor: '#000' },
        { label: 'PWD', data: jPWD, backgroundColor: PWD_GREY, errHi: jPWDErr, capW: 18, errColor: PWD_GREY },
      ],
    },
    options: baseOptions(jBox, jArea, {
      x: categoryAxis({ height: jBox.y + jBox.h - jArea.b, size: 26, tickLen: 15, pad: 2, rot: 45, show: true }),
      y: valueAxis({ width: jArea.l - jBox.x, min: 0, max: 250, ticks: jTicks, size: 27, tickLen: 15, pad: 3 }),
    }, { datasets: { bar: { barPercentage: 0.65, categoryPercentage: 0.77 } } }),
    plugins: [errorBarPlugin, pagePlugin(jBox, (ctx, chart, P) => {
      drawText(ctx, 'j', 1108, 1438, 56, { baseline: 'alphabetic' });
      drawText(ctx, yExprTitle, 1137, 1652, 31, { align: 'center', rot: -Math.PI / 2 });
      const leg: [string, string][] = [['B6', '#000'], ['PWD', PWD_GREY]];
      leg.forEach(([name, col], i) => {
        const y = 1532 + i * 40;
        ctx.fillStyle = col;
        ctx.fillRect(1533, y - 10, 30, 20);
        drawText(ctx, name, 1581, y, 26);
      });
    })],
  };
}

const BOXES = [aBox, bBox, cBox, dBox, eBox, fBox, gBox, hBox, iBox, jBox];
const BUILDERS = [panelA, panelB, panelC, panelD, panelE, panelF, panelG, panelH, panelI, panelJ];

export default function App() {
  const refs = useRef<(HTMLCanvasElement | null)[]>([]);
  useEffect(() => {
    const charts = BUILDERS.map((build, i) => new Chart(refs.current[i] as HTMLCanvasElement, build()));
    return () => charts.forEach((c) => c.destroy());
  }, []);
  return (
    <div style={{ position: 'absolute', left: 0, top: 0, width: 1704, height: 1920, background: '#ffffff', overflow: 'hidden' }}>
      {BOXES.map((b, i) => (
        <canvas
          key={i}
          ref={(el) => { refs.current[i] = el; }}
          width={b.w}
          height={b.h}
          style={{ position: 'absolute', left: b.x, top: b.y, width: b.w, height: b.h }}
        />
      ))}
    </div>
  );
}
